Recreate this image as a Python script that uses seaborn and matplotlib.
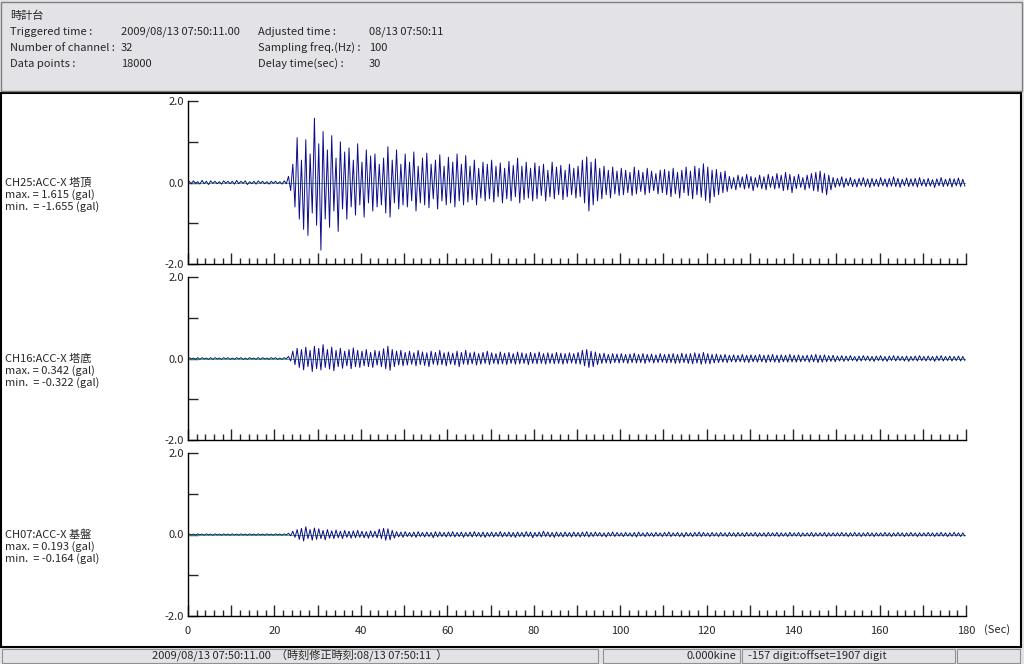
import numpy as np
import seaborn as sns
import matplotlib.pyplot as plt
from matplotlib.patches import Rectangle
from matplotlib.ticker import FixedLocator, FixedFormatter

# header info
title = "時計台"
info_left = [("Triggered time :", "2009/08/13 07:50:11.00"),
             ("Number of channel :", "32"),
             ("Data points :", "18000")]
info_right = [("Adjusted time :", "08/13 07:50:11"),
              ("Sampling freq.(Hz) :", "100"),
              ("Delay time(sec) :", "30")]

channels = ["CH25:ACC-X 塔頂", "CH16:ACC-X 塔底", "CH07:ACC-X 基盤"]
ch_max = ["1.615", "0.342", "0.193"]
ch_min = ["-1.655", "-0.322", "-0.164"]

# peak values read per second (positive peak, negative peak), gal
ch25_hi = [0.03, 0.04, 0.02, 0.05, 0.03, 0.04, 0.03, 0.02, 0.04, 0.03,
           0.03, 0.05, 0.03, 0.04, 0.02, 0.03, 0.04, 0.03, 0.02, 0.03,
           0.03, 0.02, 0.04, 0.15, 0.45, 1.10, 0.55, 1.05, 0.70, 1.58,
           0.95, 1.25, 0.80, 1.15, 0.60, 1.00, 0.75, 0.85, 0.55, 0.95,
           0.50, 0.80, 0.65, 0.70, 0.45, 0.60, 0.88, 0.55, 0.80, 0.45,
           0.70, 0.50, 0.75, 0.40, 0.60, 0.72, 0.45, 0.55, 0.68, 0.40,
           0.62, 0.50, 0.70, 0.45, 0.66, 0.40, 0.55, 0.35, 0.50, 0.45,
           0.55, 0.40, 0.48, 0.35, 0.52, 0.42, 0.60, 0.40, 0.50, 0.35,
           0.48, 0.40, 0.45, 0.30, 0.50, 0.38, 0.42, 0.30, 0.45, 0.35,
           0.40, 0.55, 0.63, 0.50, 0.58, 0.35, 0.40, 0.30, 0.38, 0.28,
           0.35, 0.30, 0.25, 0.38, 0.30, 0.25, 0.35, 0.28, 0.22, 0.30,
           0.32, 0.28, 0.35, 0.25, 0.30, 0.38, 0.28, 0.40, 0.35, 0.46,
           0.38, 0.30, 0.32, 0.25, 0.28, 0.15, 0.12, 0.18, 0.14, 0.20,
           0.15, 0.12, 0.18, 0.14, 0.20, 0.15, 0.22, 0.18, 0.25, 0.20,
           0.15, 0.20, 0.12, 0.18, 0.22, 0.25, 0.28, 0.22, 0.18, 0.12,
           0.10, 0.14, 0.10, 0.12, 0.08, 0.10, 0.12, 0.09, 0.10, 0.08,
           0.12, 0.09, 0.10, 0.14, 0.10, 0.08, 0.11, 0.09, 0.10, 0.12,
           0.08, 0.10, 0.07, 0.09, 0.12, 0.08, 0.10, 0.09, 0.11, 0.08]
ch25_lo = [-0.03, -0.02, -0.04, -0.03, -0.05, -0.02, -0.03, -0.04, -0.02, -0.03,
           -0.04, -0.03, -0.02, -0.05, -0.03, -0.04, -0.02, -0.03, -0.04, -0.02,
           -0.03, -0.04, -0.03, -0.20, -0.60, -0.90, -1.15, -1.30, -0.75, -1.05,
           -1.66, -0.90, -1.10, -0.70, -1.20, -0.65, -0.90, -0.60, -0.80, -0.55,
           -0.85, -0.50, -0.70, -0.60, -0.55, -0.75, -0.85, -0.50, -0.65, -0.55,
           -0.60, -0.45, -0.70, -0.50, -0.55, -0.62, -0.40, -0.65, -0.45, -0.55,
           -0.50, -0.60, -0.45, -0.55, -0.48, -0.42, -0.55, -0.38, -0.45, -0.40,
           -0.48, -0.35, -0.50, -0.40, -0.45, -0.35, -0.50, -0.42, -0.38, -0.45,
           -0.40, -0.32, -0.45, -0.35, -0.40, -0.30, -0.42, -0.35, -0.30, -0.38,
           -0.35, -0.50, -0.70, -0.55, -0.45, -0.40, -0.30, -0.38, -0.28, -0.32,
           -0.30, -0.25, -0.32, -0.28, -0.22, -0.30, -0.25, -0.20, -0.28, -0.25,
           -0.30, -0.35, -0.28, -0.38, -0.25, -0.32, -0.40, -0.30, -0.36, -0.44,
           -0.50, -0.35, -0.30, -0.25, -0.22, -0.15, -0.18, -0.12, -0.16, -0.14,
           -0.20, -0.12, -0.15, -0.18, -0.12, -0.16, -0.14, -0.20, -0.18, -0.25,
           -0.15, -0.12, -0.18, -0.14, -0.20, -0.22, -0.25, -0.30, -0.18, -0.12,
           -0.09, -0.12, -0.08, -0.10, -0.11, -0.08, -0.10, -0.12, -0.09, -0.10,
           -0.08, -0.11, -0.09, -0.10, -0.12, -0.08, -0.10, -0.09, -0.11, -0.08,
           -0.10, -0.09, -0.12, -0.08, -0.10, -0.09, -0.11, -0.08, -0.10, -0.09]

ch16_hi = [0.02, 0.01, 0.02, 0.02, 0.01, 0.02, 0.02, 0.01, 0.02, 0.02,
           0.01, 0.02, 0.02, 0.01, 0.02, 0.01, 0.02, 0.02, 0.01, 0.02,
           0.02, 0.01, 0.02, 0.05, 0.18, 0.25, 0.22, 0.28, 0.20, 0.30,
           0.25, 0.34, 0.22, 0.28, 0.20, 0.25, 0.18, 0.22, 0.26, 0.20,
           0.18, 0.22, 0.15, 0.20, 0.18, 0.24, 0.30, 0.22, 0.18, 0.20,
           0.15, 0.18, 0.14, 0.20, 0.16, 0.14, 0.18, 0.15, 0.20, 0.14,
           0.16, 0.13, 0.18, 0.15, 0.20, 0.14, 0.16, 0.12, 0.15, 0.18,
           0.14, 0.12, 0.16, 0.13, 0.15, 0.12, 0.16, 0.14, 0.12, 0.15,
           0.13, 0.16, 0.12, 0.14, 0.12, 0.15, 0.13, 0.12, 0.14, 0.12,
           0.15, 0.20, 0.22, 0.18, 0.16, 0.12, 0.13, 0.10, 0.12, 0.11,
           0.12, 0.10, 0.11, 0.13, 0.10, 0.12, 0.10, 0.11, 0.09, 0.12,
           0.10, 0.11, 0.12, 0.10, 0.13, 0.11, 0.12, 0.14, 0.12, 0.15,
           0.12, 0.10, 0.11, 0.09, 0.10, 0.08, 0.09, 0.08, 0.10, 0.08,
           0.09, 0.08, 0.10, 0.08, 0.09, 0.10, 0.08, 0.09, 0.08, 0.10,
           0.08, 0.09, 0.07, 0.08, 0.09, 0.10, 0.08, 0.09, 0.07, 0.08,
           0.06, 0.07, 0.06, 0.07, 0.05, 0.06, 0.07, 0.06, 0.05, 0.06,
           0.07, 0.05, 0.06, 0.07, 0.06, 0.05, 0.06, 0.05, 0.06, 0.07,
           0.05, 0.06, 0.05, 0.06, 0.07, 0.05, 0.06, 0.05, 0.06, 0.05]
ch16_lo = [-0.01, -0.02, -0.02, -0.01, -0.02, -0.02, -0.01, -0.02, -0.01, -0.02,
           -0.02, -0.01, -0.02, -0.02, -0.01, -0.02, -0.02, -0.01, -0.02, -0.01,
           -0.02, -0.02, -0.01, -0.06, -0.15, -0.22, -0.28, -0.20, -0.32, -0.25,
           -0.28, -0.22, -0.26, -0.30, -0.20, -0.24, -0.18, -0.25, -0.20, -0.22,
           -0.18, -0.20, -0.22, -0.16, -0.20, -0.25, -0.29, -0.20, -0.16, -0.18,
           -0.16, -0.14, -0.18, -0.15, -0.17, -0.20, -0.14, -0.16, -0.15, -0.18,
           -0.14, -0.16, -0.20, -0.14, -0.15, -0.13, -0.16, -0.14, -0.12, -0.15,
           -0.12, -0.14, -0.13, -0.15, -0.12, -0.14, -0.13, -0.12, -0.15, -0.12,
           -0.13, -0.12, -0.14, -0.12, -0.13, -0.12, -0.14, -0.12, -0.11, -0.13,
           -0.14, -0.18, -0.22, -0.20, -0.15, -0.12, -0.11, -0.12, -0.10, -0.11,
           -0.10, -0.12, -0.10, -0.11, -0.10, -0.12, -0.09, -0.11, -0.10, -0.09,
           -0.11, -0.10, -0.12, -0.11, -0.10, -0.12, -0.13, -0.11, -0.14, -0.12,
           -0.13, -0.11, -0.10, -0.09, -0.10, -0.08, -0.09, -0.08, -0.09, -0.10,
           -0.08, -0.09, -0.08, -0.10, -0.08, -0.09, -0.10, -0.08, -0.09, -0.08,
           -0.09, -0.08, -0.07, -0.09, -0.08, -0.10, -0.09, -0.08, -0.07, -0.08,
           -0.06, -0.07, -0.06, -0.05, -0.07, -0.06, -0.05, -0.06, -0.07, -0.05,
           -0.06, -0.07, -0.05, -0.06, -0.05, -0.06, -0.07, -0.05, -0.06, -0.05,
           -0.06, -0.05, -0.07, -0.05, -0.06, -0.05, -0.06, -0.05, -0.06, -0.05]

ch07_hi = [0.015, 0.01, 0.015, 0.01, 0.015, 0.01, 0.015, 0.01, 0.015, 0.01,
           0.015, 0.01, 0.015, 0.01, 0.015, 0.01, 0.015, 0.01, 0.015, 0.01,
           0.015, 0.01, 0.015, 0.03, 0.08, 0.12, 0.15, 0.19, 0.12, 0.16,
           0.14, 0.10, 0.12, 0.09, 0.11, 0.08, 0.10, 0.08, 0.09, 0.10,
           0.08, 0.07, 0.09, 0.08, 0.13, 0.15, 0.14, 0.10, 0.07, 0.06,
           0.07, 0.05, 0.06, 0.07, 0.05, 0.06, 0.05, 0.07, 0.06, 0.05,
           0.06, 0.07, 0.05, 0.06, 0.05, 0.06, 0.07, 0.05, 0.06, 0.05,
           0.06, 0.05, 0.07, 0.05, 0.06, 0.05, 0.06, 0.05, 0.07, 0.06,
           0.05, 0.06, 0.08, 0.06, 0.05, 0.06, 0.05, 0.06, 0.05, 0.06,
           0.05, 0.06, 0.07, 0.05, 0.06, 0.05, 0.04, 0.05, 0.06, 0.05,
           0.04, 0.05, 0.04, 0.05, 0.06, 0.04, 0.05, 0.04, 0.05, 0.04,
           0.05, 0.06, 0.04, 0.05, 0.04, 0.05, 0.04, 0.05, 0.06, 0.05,
           0.04, 0.05, 0.04, 0.05, 0.04, 0.05, 0.04, 0.05, 0.04, 0.05,
           0.04, 0.05, 0.04, 0.04, 0.05, 0.04, 0.05, 0.04, 0.04, 0.05,
           0.04, 0.05, 0.04, 0.04, 0.05, 0.04, 0.04, 0.05, 0.04, 0.04,
           0.04, 0.05, 0.04, 0.04, 0.05, 0.04, 0.04, 0.05, 0.04, 0.04,
           0.04, 0.05, 0.04, 0.04, 0.05, 0.04, 0.04, 0.05, 0.04, 0.04,
           0.04, 0.05, 0.04, 0.04, 0.05, 0.04, 0.04, 0.05, 0.04, 0.04]
ch07_lo = [-0.01, -0.015, -0.01, -0.015, -0.01, -0.015, -0.01, -0.015, -0.01, -0.015,
           -0.01, -0.015, -0.01, -0.015, -0.01, -0.015, -0.01, -0.015, -0.01, -0.015,
           -0.01, -0.015, -0.01, -0.03, -0.07, -0.12, -0.16, -0.10, -0.14, -0.12,
           -0.10, -0.13, -0.09, -0.10, -0.08, -0.10, -0.07, -0.09, -0.08, -0.07,
           -0.08, -0.09, -0.07, -0.08, -0.10, -0.14, -0.13, -0.09, -0.06, -0.07,
           -0.05, -0.06, -0.07, -0.05, -0.06, -0.05, -0.08, -0.06, -0.05, -0.06,
           -0.05, -0.06, -0.05, -0.07, -0.05, -0.06, -0.05, -0.06, -0.07, -0.05,
           -0.06, -0.05, -0.06, -0.05, -0.06, -0.07, -0.05, -0.06, -0.05, -0.08,
           -0.05, -0.06, -0.05, -0.06, -0.07, -0.05, -0.06, -0.05, -0.06, -0.05,
           -0.06, -0.05, -0.06, -0.05, -0.04, -0.05, -0.06, -0.04, -0.05, -0.04,
           -0.05, -0.04, -0.05, -0.06, -0.04, -0.05, -0.04, -0.05, -0.04, -0.05,
           -0.04, -0.05, -0.04, -0.05, -0.06, -0.04, -0.05, -0.04, -0.05, -0.04,
           -0.05, -0.04, -0.05, -0.04, -0.05, -0.04, -0.05, -0.04, -0.05, -0.04,
           -0.04, -0.05, -0.04, -0.05, -0.04, -0.04, -0.05, -0.04, -0.05, -0.04,
           -0.04, -0.05, -0.04, -0.04, -0.05, -0.04, -0.04, -0.05, -0.04, -0.04,
           -0.04, -0.04, -0.05, -0.04, -0.04, -0.05, -0.04, -0.04, -0.05, -0.04,
           -0.04, -0.04, -0.05, -0.04, -0.04, -0.05, -0.04, -0.04, -0.05, -0.04,
           -0.04, -0.04, -0.05, -0.04, -0.04, -0.05, -0.04, -0.04, -0.05, -0.04]

x_major = list(range(0, 181, 10))
x_minor = [v for v in range(0, 181, 2) if v % 10 != 0]
x_labels = [str(v) if v % 20 == 0 else '' for v in x_major]

status_time = "2009/08/13 07:50:11.00  （時刻修正時刻:08/13 07:50:11  ）"
status_vel = "0.000kine"
status_digit = "-157 digit:offset=1907 digit"

sns.set_style("white")
plt.rcParams['font.family'] = ['Noto Sans CJK JP', 'DejaVu Sans']

W, H = 1024, 664
fig = plt.figure(figsize=(W / 100, H / 100), dpi=100)
fig.patch.set_facecolor('#e3e3e7')


def fx(x):
    return x / W


def fy(y):
    return 1 - y / H


# white plot frame
fig.patches.append(Rectangle((fx(1), fy(647)), fx(1020), (647 - 93) / H,
                             transform=fig.transFigure, facecolor='white',
                             edgecolor='black', lw=1.5, zorder=-5))
# header edge
fig.patches.append(Rectangle((fx(1), fy(91)), fx(1021), 89 / H,
                             transform=fig.transFigure, facecolor='none',
                             edgecolor='#808080', lw=1, zorder=-5))

fs = 8
fig.text(fx(10), fy(16), title, fontsize=fs, va='center')
for i, (lab, val) in enumerate(info_left):
    fig.text(fx(10), fy(32 + 16 * i), lab, fontsize=fs, va='center')
    fig.text(fx(121), fy(32 + 16 * i), val, fontsize=fs, va='center')
for i, (lab, val) in enumerate(info_right):
    fig.text(fx(258), fy(32 + 16 * i), lab, fontsize=fs, va='center')
    fig.text(fx(369), fy(32 + 16 * i), val, fontsize=fs, va='center')

his = [ch25_hi, ch16_hi, ch07_hi]
los = [ch25_lo, ch16_lo, ch07_lo]
tops = [101, 277, 453]
for k in range(3):
    top = tops[k]
    ax = fig.add_axes([fx(188), fy(top + 163), fx(778), 163 / H])
    ax.set_facecolor('none')
    ax.set_zorder(2)
    t = []
    y = []
    for i in range(len(his[k])):
        t += [i + 0.25, i + 0.75]
        y += [his[k][i], los[k][i]]
    ax.axhline(0, color='#30b030', lw=0.6, zorder=1)
    sns.lineplot(x=t, y=y, ax=ax, color='#0c0c8c', lw=0.7,
                 estimator=None, sort=False, zorder=2)
    ax.set_xlim(0, 180)
    ax.set_ylim(-2, 2)
    sns.despine(ax=ax, top=True, right=True)
    for s in ['left', 'bottom']:
        ax.spines[s].set_color('black')
        ax.spines[s].set_linewidth(1)
    ax.yaxis.set_major_locator(FixedLocator([-2, 0, 2]))
    ax.yaxis.set_major_formatter(FixedFormatter(['-2.0', '0.0', '2.0']))
    ax.yaxis.set_minor_locator(FixedLocator([-1, 1]))
    ax.xaxis.set_major_locator(FixedLocator(x_major))
    ax.xaxis.set_minor_locator(FixedLocator(x_minor))
    if k == 2:
        ax.xaxis.set_major_formatter(FixedFormatter(x_labels))
    else:
        ax.xaxis.set_major_formatter(FixedFormatter([''] * len(x_major)))
    ax.tick_params(axis='y', which='both', direction='in', length=7, width=1,
                   labelsize=fs, pad=3, left=True)
    ax.tick_params(axis='x', which='major', direction='in', length=8, width=1,
                   labelsize=fs, pad=7, bottom=True)
    ax.tick_params(axis='x', which='minor', direction='in', length=4, width=1,
                   bottom=True)
    ax.set_xlabel('')
    ax.set_ylabel('')
    yc = top + 82
    fig.text(fx(5), fy(yc), channels[k], fontsize=fs, va='center')
    fig.text(fx(5), fy(yc + 12), "max. = " + ch_max[k] + " (gal)", fontsize=fs, va='center')
    fig.text(fx(5), fy(yc + 24), "min.  = " + ch_min[k] + " (gal)", fontsize=fs, va='center')

fig.text(fx(984), fy(630), "(Sec)", fontsize=fs, va='center')

# status bar
for x0, x1 in [(2, 598), (603, 740), (742, 955), (957, 1020)]:
    fig.patches.append(Rectangle((fx(x0), fy(663)), fx(x1 - x0), 14 / H,
                                 transform=fig.transFigure, facecolor='#e3e3e7',
                                 edgecolor='#909090', lw=0.8, zorder=-5))
fig.text(fx(300), fy(656), status_time, fontsize=fs, va='center', ha='center')
fig.text(fx(736), fy(656), status_vel, fontsize=fs, va='center', ha='right')
fig.text(fx(748), fy(656), status_digit, fontsize=fs, va='center')

fig.savefig('out.png', dpi=100)
